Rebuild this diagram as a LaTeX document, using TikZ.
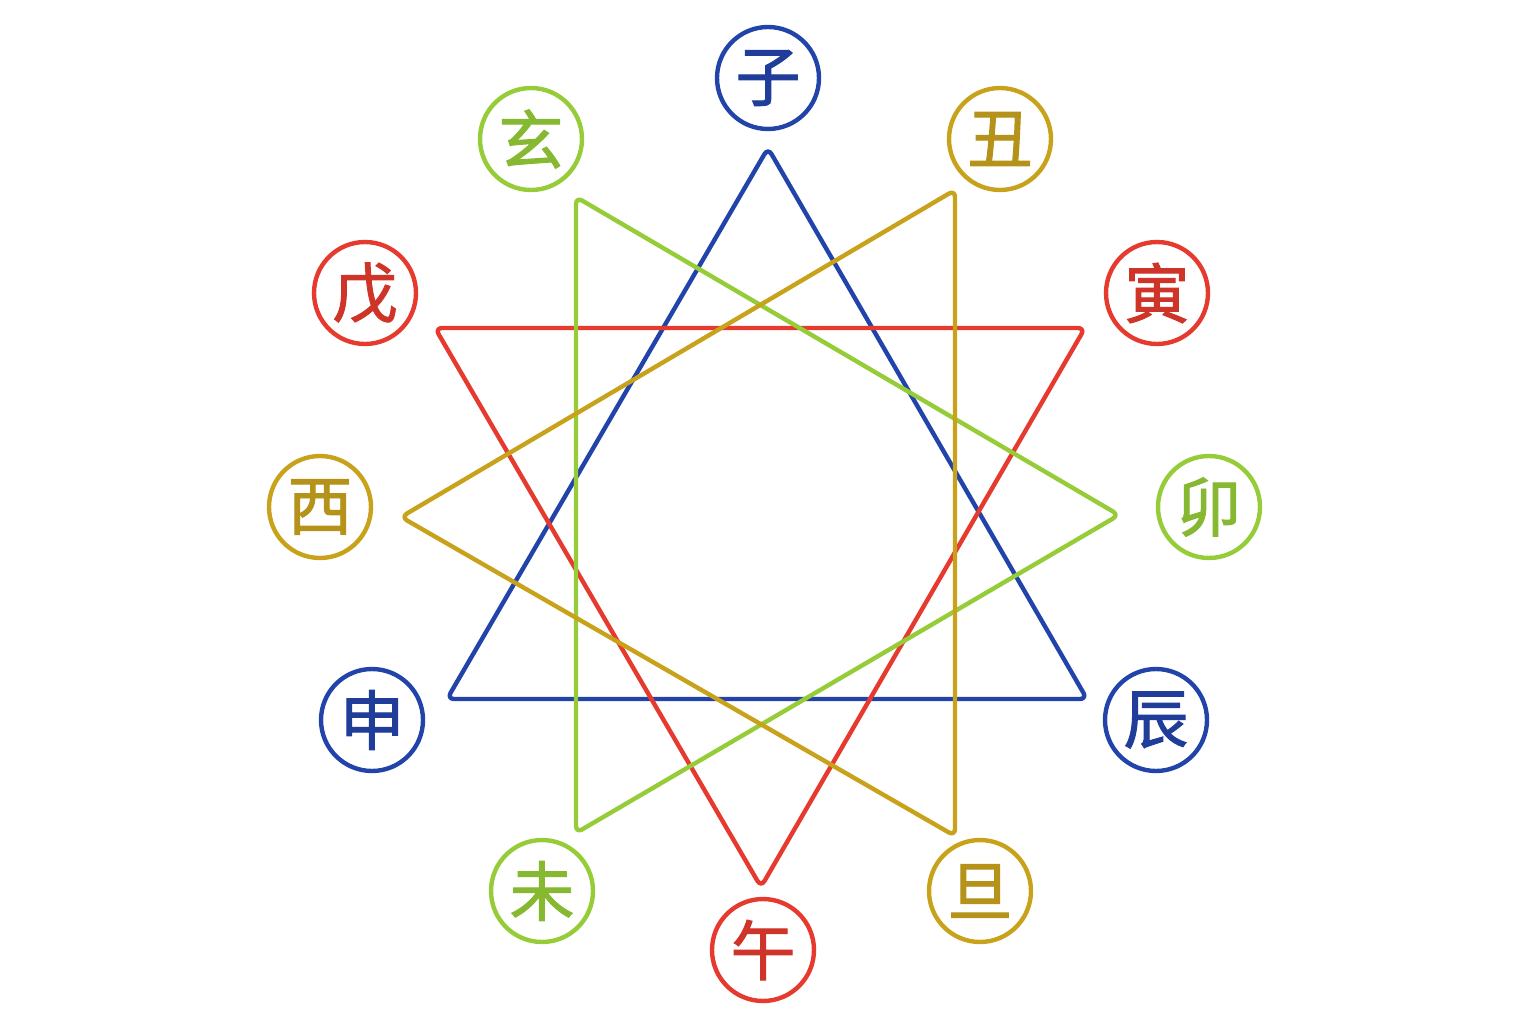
\documentclass[tikz,border=0pt]{standalone}
\usepackage{fontspec}
\usepackage{xcolor}
\usepackage{tikz}
\newfontfamily\cjk[FakeBold=1.5]{Noto Sans CJK SC}
\definecolor{zblue}{HTML}{2244AA}
\definecolor{zred}{HTML}{E63A2E}
\definecolor{zgreen}{HTML}{95CC38}
\definecolor{zgold}{HTML}{C9A21C}

\begin{document}
\begin{tikzpicture}[x=0.02cm, y=-0.02cm,
  branch/.style={shape=circle, draw=#1, line width=2.5pt, minimum size=2.04cm,
    inner sep=0pt, text=#1!90!black, font=\cjk\fontsize{37pt}{37pt}\selectfont},
  trine/.style={draw=#1, line width=2.5pt, rounded corners=4pt, line join=round}]
\useasboundingbox (0,0) rectangle (1536,1024);

\draw [trine=zblue]  (768,148) -- (1087,699) -- (447,699) -- cycle ;
\draw [trine=zred]   (435,328) -- (1085,328) -- (761,887) -- cycle ;
\draw [trine=zgreen] (576,197) -- (1119,515) -- (576,833) -- cycle ;
\draw [trine=zgold]  (955,190) -- (955,836) -- (401,517) -- cycle ;

\foreach \n/\x/\y/\c/\t in {zi/768/78/zblue/子, chou/1000/139/zgold/丑,
  yin/1157/293/zred/寅, mao/1209/507/zgreen/卯, chen/1156/720/zblue/辰,
  dan/980/891/zgold/旦, wu/763/950/zred/午, wei/542/891/zgreen/未,
  shen/372/720/zblue/申, xi/320/507/zgold/西, wuu/365/293/zred/戊,
  xuan/531/139/zgreen/玄}
  { \node (\n) at (\x, \y) [branch=\c] {\t} ; }

\end{tikzpicture}
\end{document}
